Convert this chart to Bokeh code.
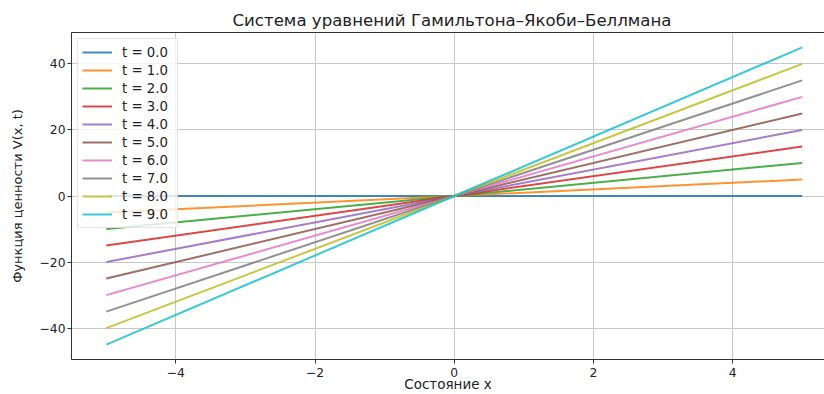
from bokeh.plotting import figure
from bokeh.models import Legend, LegendItem, LinearAxis, FixedTicker, Range1d, Title
from bokeh.embed import file_html
from bokeh.resources import INLINE

# Data: V(x, t) at x = -5, 0, 5 for each t
x_vals = [-5.0, 0.0, 5.0]
t_labels = ["t = 0.0", "t = 1.0", "t = 2.0", "t = 3.0", "t = 4.0",
            "t = 5.0", "t = 6.0", "t = 7.0", "t = 8.0", "t = 9.0"]
v_series = [
    [0, 0, 0],
    [-5, 0, 5],
    [-10, 0, 10],
    [-15, 0, 15],
    [-20, 0, 20],
    [-25, 0, 25],
    [-30, 0, 30],
    [-35, 0, 35],
    [-40, 0, 40],
    [-45, 0, 45],
]
colors = ["#1f77b4", "#ff7f0e", "#2ca02c", "#d62728", "#9467bd",
          "#8c564b", "#e377c2", "#7f7f7f", "#bcbd22", "#17becf"]
x_ticks = [-4, -2, 0, 2, 4]
x_tick_labels = ["−4", "−2", "0", "2", "4"]
y_ticks = [-40, -20, 0, 20, 40]
y_tick_labels = ["−40", "−20", "0", "20", "40"]

title_text = "Система уравнений Гамильтона–Якоби–Беллмана"
x_label = "Состояние x"
y_label = "Функция ценности V(x, t)"

FONT = "DejaVu Sans"
X0, X1 = -5.5, 5.32
Y0, Y1 = -49.5, 49.5

p = figure(width=824, height=394, output_backend="svg", toolbar_location=None,
           x_range=Range1d(X0, X1), y_range=Range1d(Y0, Y1),
           min_border_left=71, min_border_right=0, min_border_top=32, min_border_bottom=35,
           x_axis_location=None, y_axis_location=None)
p.outline_line_color = None
p.background_fill_color = "white"
p.border_fill_color = "white"

# top spine (added first so it sits against the frame)
top_ax = LinearAxis(ticker=FixedTicker(ticks=[]))
top_ax.axis_line_color = "#333333"
top_ax.major_tick_line_color = None
top_ax.minor_tick_line_color = None
top_ax.major_label_text_font_size = "0px"
p.add_layout(top_ax, "above")

t = Title(text=title_text, align="left", offset=161, text_font=FONT, text_font_size="16.6px",
          text_font_style="normal", text_color="#222222", standoff=6)
p.add_layout(t, "above")

def style_axis(ax):
    ax.axis_line_color = "#333333"
    ax.axis_line_width = 1
    ax.major_tick_line_color = "#333333"
    ax.major_tick_out = 4
    ax.major_tick_in = 0
    ax.minor_tick_line_color = None
    ax.major_label_text_font = FONT
    ax.major_label_text_font_size = "12.3px"
    ax.major_label_text_color = "#222222"
    ax.axis_label_text_font = FONT
    ax.axis_label_text_font_size = "13.5px"
    ax.axis_label_text_font_style = "normal"
    ax.axis_label_text_color = "#222222"

xax = LinearAxis(ticker=FixedTicker(ticks=x_ticks), axis_label=x_label,
                 major_label_overrides={k: v for k, v in zip(x_ticks, x_tick_labels)})
style_axis(xax)
xax.major_label_standoff = 4
xax.axis_label_standoff = -4
p.add_layout(xax, "below")

yax = LinearAxis(ticker=FixedTicker(ticks=y_ticks), axis_label=y_label,
                 major_label_overrides={k: v for k, v in zip(y_ticks, y_tick_labels)})
style_axis(yax)
yax.major_label_standoff = 2
yax.axis_label_text_font_size = "13px"
yax.axis_label_standoff = 12
p.add_layout(yax, "left")

p.xgrid.ticker = FixedTicker(ticks=x_ticks)
p.ygrid.ticker = FixedTicker(ticks=y_ticks)
p.xgrid.grid_line_color = "#c8c8c8"
p.ygrid.grid_line_color = "#c8c8c8"
p.xgrid.grid_line_width = 1
p.ygrid.grid_line_width = 1

items = []
for lbl, vals, c in zip(t_labels, v_series, colors):
    r = p.line(x_vals, vals, line_color=c, line_width=2, line_alpha=0.85)
    items.append(LegendItem(label=lbl, renderers=[r]))

legend = Legend(items=items, location="top_left", margin=6, padding=4, spacing=0,
                label_height=18, glyph_height=18, glyph_width=30, label_standoff=10,
                label_width=51,
                label_text_font=FONT, label_text_font_size="13.3px", label_text_color="#222222",
                border_line_color="#cccccc", border_line_width=1,
                background_fill_color="white", background_fill_alpha=0.8)
p.add_layout(legend, "center")

open("out.html", "w").write(file_html(p, INLINE))
